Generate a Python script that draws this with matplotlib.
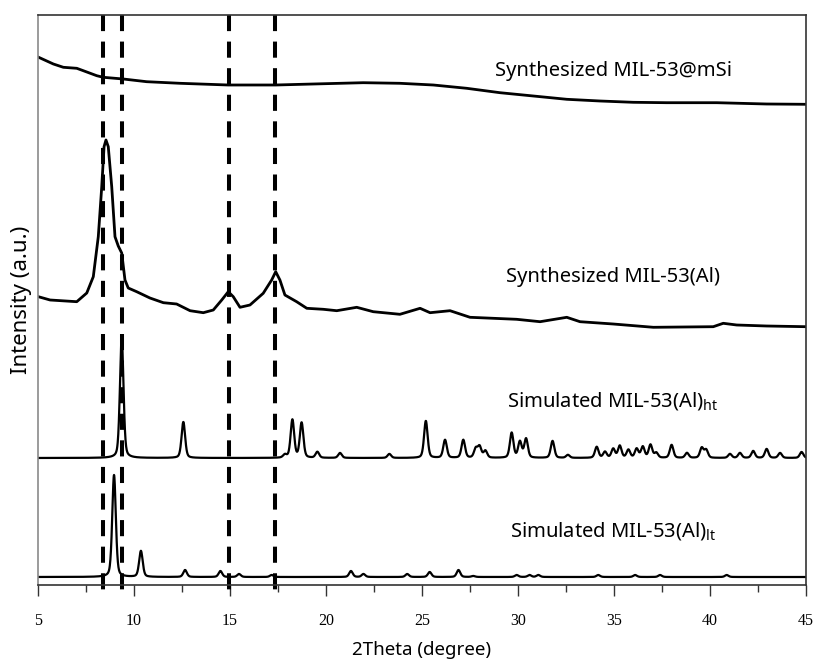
import numpy as np
import matplotlib
matplotlib.use("Agg")
import matplotlib.pyplot as plt
from matplotlib.ticker import MultipleLocator

# ---------------- data ----------------
msi_2theta = [5.00, 5.80, 6.32, 7.02, 7.36, 8.06, 8.40, 9.44, 10.66, 12.40, 14.91,
              17.38, 19.34, 21.94, 23.85, 25.59, 27.33, 29.06, 30.80, 32.54, 34.27,
              36.00, 37.74, 40.35, 42.95, 45.00]
msi_int = [48, 41, 37.7, 36.7, 34.3, 29.3, 27.7, 26, 23.3, 21.7, 20,
           20, 21, 22.3, 21.7, 20, 16.7, 12.3, 9, 5.7, 4,
           2.7, 2.3, 2.3, 1, 0.7]

al_2theta = [5.02, 5.63, 7.02, 7.54, 7.88, 8.14, 8.32, 8.44, 8.54, 8.66, 8.84, 9.01,
             9.18, 9.36, 9.53, 9.70, 10.14, 10.83, 11.53, 12.22, 12.92, 13.61, 14.13,
             14.57, 14.91, 15.17, 15.52, 16.04, 16.73, 17.17, 17.38, 17.60, 17.86,
             18.47, 19.00, 19.86, 20.56, 21.60, 22.46, 23.85, 24.90, 25.42, 26.46,
             27.50, 29.93, 31.15, 32.54, 33.23, 34.96, 37.05, 40.17, 40.69, 41.39,
             42.95, 45.00]
al_int = [31.3, 28, 26.3, 35, 51.3, 91.3, 141.3, 181.3, 188, 181.3, 141.3, 91.3,
          82, 75, 48, 40, 36.3, 30, 25.3, 24, 17.3, 15.3, 18,
          28, 36.3, 31.3, 20.7, 23, 34.7, 48, 56.3, 48, 33,
          26.3, 19.7, 18.7, 17.3, 20.7, 16.3, 13.7, 19.7, 15.3, 17.3,
          10.7, 8.7, 6.3, 10.7, 6.3, 4, 0.7, 1.3, 4.7, 3,
          2, 1.3]

ht_pos = [9.36, 12.57, 17.86, 18.25, 18.73, 19.55, 20.73, 23.3, 25.2, 26.2, 27.15,
          27.8, 28.0, 28.3, 29.67, 30.1, 30.42, 31.8, 32.6, 34.1, 34.53, 34.96,
          35.3, 35.75, 36.18, 36.5, 36.9, 37.2, 38.0, 38.8, 39.57, 39.8, 41.04,
          41.56, 42.25, 42.95, 43.65, 44.77]
ht_int = [120, 36, 3, 38, 35, 6, 5, 4, 37, 18, 18,
          9, 11, 7, 25, 16, 19, 17, 3, 11, 6, 9,
          12, 8, 9, 11, 13, 5, 13, 5, 10, 8, 4,
          5, 7, 9, 5, 6]

lt_pos = [8.96, 10.36, 12.66, 14.5, 15.47, 17.17, 21.3, 21.95, 24.23, 25.4, 26.9,
          27.67, 29.93, 30.6, 31.06, 34.18, 36.1, 37.4, 40.87]
lt_int = [102, 26, 7, 6, 3, 2, 6, 3, 3, 5, 7,
          1, 2, 2, 2, 2, 2, 2, 2]

ref_lines = [8.4, 9.4, 14.95, 17.35]
series_labels = ["Synthesized MIL-53@mSi", "Synthesized MIL-53(Al)",
                 r"Simulated MIL-53(Al)$_{\mathrm{ht}}$",
                 r"Simulated MIL-53(Al)$_{\mathrm{lt}}$"]
xtick_values = [5, 10, 15, 20, 25, 30, 35, 40, 45]

# ---------------- layout constants ----------------
OFF_MSI, OFF_AL, OFF_HT, OFF_LT = 480, 257, 127, 8
LABEL_Y = [514, 308, 184, 54]
LABEL_X = 34.95

plt.rcParams["font.family"] = ["Noto Sans", "DejaVu Sans"]
plt.rcParams["mathtext.fontset"] = "custom"
plt.rcParams["mathtext.rm"] = "Noto Sans"
plt.rcParams["mathtext.it"] = "Noto Sans:italic"
plt.rcParams["mathtext.bf"] = "Noto Sans:bold"

W, H = 813, 662
fig = plt.figure(figsize=(W / 100, H / 100), dpi=100)
ax = fig.add_axes([38 / W, 1 - 585 / H, (806 - 38) / W, (585 - 15) / H])


def peak_profile(x, pos, amp, hw=0.11, eta=0.35):
    y = np.zeros_like(x)
    for p, a in zip(pos, amp):
        g = np.exp(-np.log(2) * ((x - p) / hw) ** 2)
        l = 1.0 / (1.0 + ((x - p) / hw) ** 2)
        y += a * (eta * l + (1 - eta) * g)
    return y


xg = np.linspace(5, 45, 4001)

ax.plot(msi_2theta, np.array(msi_int) + OFF_MSI, color="black", lw=2.0,
        solid_joinstyle="round")
ax.plot(al_2theta, np.array(al_int) + OFF_AL, color="black", lw=2.0,
        solid_joinstyle="round")
ax.plot(xg, peak_profile(xg, ht_pos, ht_int) + OFF_HT, color="black", lw=1.6)
ax.plot(xg, peak_profile(xg, lt_pos, lt_int) + OFF_LT, color="black", lw=1.6)

for xv in ref_lines:
    ax.plot([xv, xv], [570, -13], color="black", lw=2.9, dashes=(4, 2.6),
            clip_on=False, solid_capstyle="butt", dash_capstyle="butt")

for lab, ly in zip(series_labels, LABEL_Y):
    ax.text(LABEL_X, ly, lab, ha="center", va="center", fontsize=14.5, color="black")

ax.set_xlim(5, 45)
ax.set_ylim(0, 570)
ax.set_xticks(xtick_values)
ax.xaxis.set_minor_locator(MultipleLocator(2.5))
ax.set_yticks([])
ax.tick_params(axis="x", which="major", direction="out", length=8, width=1,
               color="#333333", pad=12)
ax.tick_params(axis="x", which="minor", direction="out", length=5, width=1,
               color="#333333")
for t in ax.get_xticklabels():
    t.set_fontfamily("Liberation Serif")
    t.set_fontsize(11.5)

for side in ["top", "right", "bottom"]:
    ax.spines[side].set_color("#333333")
    ax.spines[side].set_linewidth(1.2)
ax.spines["left"].set_color("#8a8a8a")
ax.spines["left"].set_linewidth(1.2)

ax.set_xlabel("2Theta (degree)", fontsize=13.5, labelpad=9)
ax.set_ylabel("Intensity (a.u.)", fontsize=16, labelpad=4)

fig.savefig("out.png", dpi=100)
